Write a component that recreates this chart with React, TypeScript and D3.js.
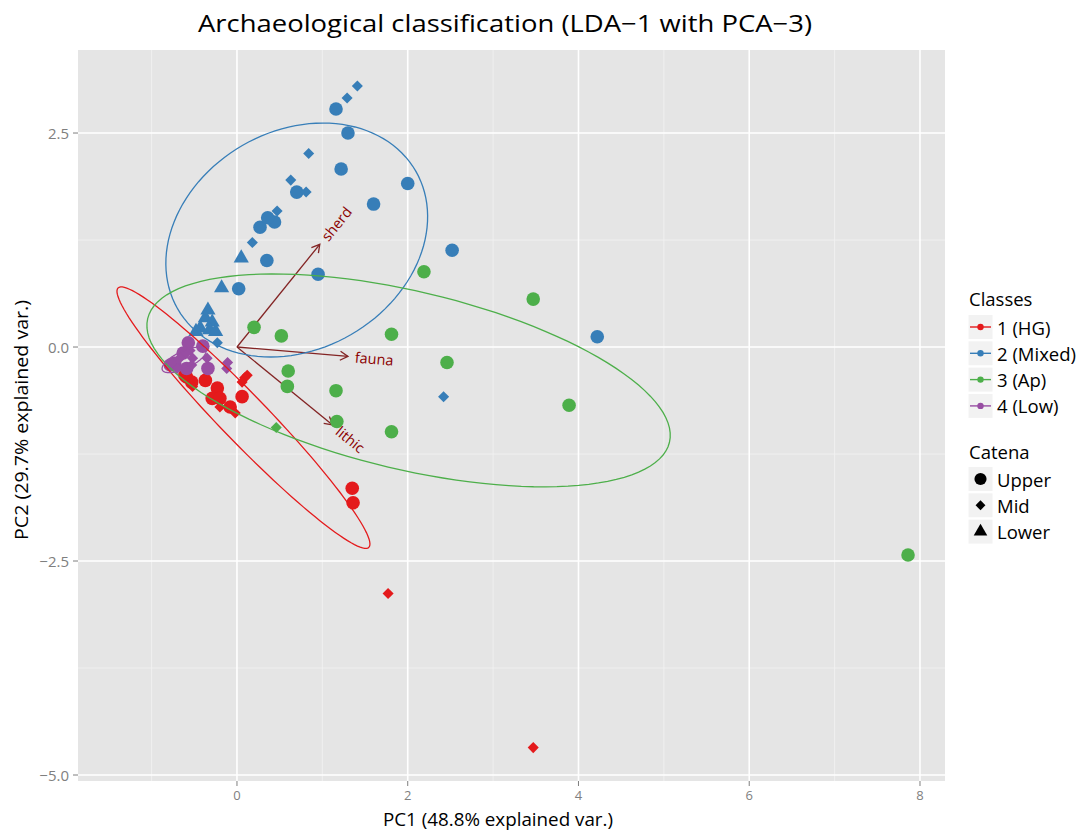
import * as d3 from 'd3';
import React from 'react';

const WIDTH = 1086;
const HEIGHT = 834;
const FONT = '"Open Sans", "Noto Sans", sans-serif';

// classes + colours (ColorBrewer Set1)
const classNames = ['1 (HG)', '2 (Mixed)', '3 (Ap)', '4 (Low)'];
const classColors = ['#E41A1C', '#377EB8', '#4DAF4A', '#984EA3'];
const catenaNames = ['Upper', 'Mid', 'Lower'];

// PC scores, [PC1, PC2]
const hgUpper = [
  [-0.59, -0.35], [-0.53, -0.41], [-0.37, -0.39], [-0.23, -0.48], [-0.29, -0.60],
  [-0.20, -0.60], [-0.08, -0.70], [0.06, -0.58], [-0.61, -0.33], [1.35, -1.65], [1.36, -1.82],
];
const hgMid = [
  [-0.52, -0.46], [-0.20, -0.70], [-0.02, -0.77], [0.09, -0.36], [0.12, -0.33],
  [0.06, -0.41], [1.77, -2.88], [3.47, -4.68],
];
const mixedUpper = [
  [1.16, 2.78], [1.30, 2.50], [1.22, 2.08], [2.00, 1.91], [1.60, 1.67], [0.70, 1.81],
  [0.27, 1.40], [0.44, 1.46], [0.36, 1.51], [0.35, 1.01], [0.95, 0.85], [0.02, 0.68],
  [2.52, 1.13], [4.22, 0.12],
];
const mixedMid = [
  [1.41, 3.05], [1.29, 2.91], [0.84, 2.26], [0.63, 1.95], [0.81, 1.81], [0.47, 1.59],
  [0.18, 1.22], [2.42, -0.58], [-0.23, 0.05],
];
const mixedLower = [
  [0.05, 1.04], [-0.18, 0.69], [-0.34, 0.43], [-0.37, 0.34], [-0.29, 0.29],
  [-0.43, 0.22], [-0.32, 0.20], [-0.25, 0.18], [-0.48, 0.18],
];
const apUpper = [
  [0.20, 0.23], [0.52, 0.13], [0.60, -0.28], [0.59, -0.46], [1.16, -0.51], [1.17, -0.87],
  [1.81, 0.15], [2.46, -0.18], [2.19, 0.88], [3.47, 0.56], [3.89, -0.68], [1.81, -0.99],
  [7.86, -2.43],
];
const apMid = [[0.46, -0.94]];
const lowUpper = [
  [-0.40, 0.01], [-0.34, -0.25], [-0.57, 0.05], [-0.63, -0.07], [-0.73, -0.19],
  [-0.59, -0.25], [-0.78, -0.21],
];
const lowMid = [
  [-0.35, -0.13], [-0.11, -0.18], [-0.12, -0.25], [-0.55, -0.04], [-0.67, -0.13],
  [-0.70, -0.25], [-0.52, -0.13], [-0.53, -0.21],
];

// normal ellipses per class: [cx, cy, semi-major, semi-minor, angle deg]
const ellipses = [
  [0.076, -0.825, 2.11, 0.275, -45.9],
  [0.70, 1.25, 1.61, 1.275, 30],
  [2.01, -0.39, 3.14, 1.04, -13.3],
  [-0.62, -0.15, 0.28, 0.10, 25],
];

// variable loadings
const varNames = ['sherd', 'fauna', 'lithic'];
const varLoadings = [[0.97, 1.20], [1.30, -0.11], [1.12, -0.91]];

const xTicks = [0, 2, 4, 6, 8];
const xMinor = [-1, 1, 3, 5, 7];
const yTicks = [-5, -2.5, 0, 2.5];
const yMinor = [-3.75, -1.25, 1.25];

const groups = [
  {cls: 0, cat: 0, pts: hgUpper}, {cls: 0, cat: 1, pts: hgMid},
  {cls: 1, cat: 0, pts: mixedUpper}, {cls: 1, cat: 1, pts: mixedMid}, {cls: 1, cat: 2, pts: mixedLower},
  {cls: 2, cat: 0, pts: apUpper}, {cls: 2, cat: 1, pts: apMid},
  {cls: 3, cat: 0, pts: lowUpper}, {cls: 3, cat: 1, pts: lowMid},
];

const M = {left: 78, right: 945, top: 50, bottom: 781};

const x = d3.scaleLinear().domain([-1.862, 8.293]).range([M.left, M.right]);
const y = d3.scaleLinear().domain([-5.07, 3.47]).range([M.bottom, M.top]);

const shapePath = (cat: number, scale = 1) => {
  if (cat === 0) return d3.symbol(d3.symbolCircle, 145 * scale)()!;
  if (cat === 1) return d3.symbol(d3.symbolDiamond2, 78 * scale)()!;
  return d3.symbol(d3.symbolTriangle, 100 * scale)()!;
};

const ellipsePath = (e: number[]) => {
  const [cx, cy, a, b, deg] = e;
  const r = (deg * Math.PI) / 180;
  const pts = d3.range(0, 121).map((i) => {
    const t = (i / 120) * 2 * Math.PI;
    const ex = a * Math.cos(t), ey = b * Math.sin(t);
    return [x(cx + ex * Math.cos(r) - ey * Math.sin(r)), y(cy + ex * Math.sin(r) + ey * Math.cos(r))] as [number, number];
  });
  return d3.line()(pts)!;
};

const ARROW = '#832424';
const fmtY = d3.format('.1f');

export default function App() {
  const ox = x(0), oy = y(0);
  return (
    <svg width={WIDTH} height={HEIGHT} style={{position: 'absolute', left: 0, top: 0, background: '#fff'}}
         fontFamily={FONT}>
      <text x={505} y={32} textAnchor="middle" fontSize={24} textLength={614} lengthAdjust="spacingAndGlyphs"
            fill="#000">Archaeological classification (LDA−1 with PCA−3)</text>

      {/* panel */}
      <rect x={M.left} y={M.top} width={M.right - M.left} height={M.bottom - M.top} fill="#E5E5E5"/>
      {xMinor.map((v) => <line key={'xm' + v} x1={x(v)} x2={x(v)} y1={M.top} y2={M.bottom} stroke="#F2F2F2" strokeWidth={0.8}/>)}
      {yMinor.map((v) => <line key={'ym' + v} y1={y(v)} y2={y(v)} x1={M.left} x2={M.right} stroke="#F2F2F2" strokeWidth={0.8}/>)}
      {xTicks.map((v) => <line key={'xg' + v} x1={x(v)} x2={x(v)} y1={M.top} y2={M.bottom} stroke="#fff" strokeWidth={1.6}/>)}
      {yTicks.map((v) => <line key={'yg' + v} y1={y(v)} y2={y(v)} x1={M.left} x2={M.right} stroke="#fff" strokeWidth={1.6}/>)}

      {/* loading arrows */}
      {varLoadings.map(([vx, vy], i) => {
        const tx = x(vx), ty = y(vy);
        const ang = Math.atan2(ty - oy, tx - ox);
        const hl = 9, ha = Math.PI / 6;
        return (
          <g key={'ar' + i} stroke={ARROW} strokeWidth={1.3} fill="none">
            <line x1={ox} y1={oy} x2={tx} y2={ty}/>
            <path d={`M${tx - hl * Math.cos(ang - ha)},${ty - hl * Math.sin(ang - ha)}L${tx},${ty}L${tx - hl * Math.cos(ang + ha)},${ty - hl * Math.sin(ang + ha)}`}/>
          </g>
        );
      })}

      {/* points */}
      {groups.map((g, gi) => g.pts.map(([px, py], i) => (
        <path key={`p${gi}-${i}`} d={shapePath(g.cat)} transform={`translate(${x(px)},${y(py)})`}
              fill={classColors[g.cls]}/>
      )))}

      {/* ellipses */}
      {ellipses.map((e, i) => (
        <path key={'el' + i} d={ellipsePath(e)} fill="none" stroke={classColors[i]} strokeWidth={1.3}/>
      ))}

      {/* variable names */}
      {varLoadings.map(([vx, vy], i) => {
        const deg = (Math.atan(vy / vx) * 180) / Math.PI;
        return (
          <text key={'vn' + i} transform={`translate(${x(vx)},${y(vy)}) rotate(${-deg})`} dx={7}
                dominantBaseline="central" fontSize={14.5} fill="#8B0000">{varNames[i]}</text>
        );
      })}

      {/* axes */}
      {xTicks.map((v) => (
        <g key={'xt' + v}>
          <line x1={x(v)} x2={x(v)} y1={M.bottom} y2={M.bottom + 5} stroke="#7F7F7F" strokeWidth={1}/>
          <text x={x(v)} y={795} textAnchor="middle" dominantBaseline="central" fontSize={13} fill="#7F7F7F">{v}</text>
        </g>
      ))}
      {yTicks.map((v) => (
        <g key={'yt' + v}>
          <line x1={M.left - 5} x2={M.left} y1={y(v)} y2={y(v)} stroke="#7F7F7F" strokeWidth={1}/>
          <text x={M.left - 9} y={y(v)} textAnchor="end" dominantBaseline="central" fontSize={15} fill="#7F7F7F">{fmtY(v)}</text>
        </g>
      ))}
      <text x={498} y={826} textAnchor="middle" fontSize={18} textLength={230} lengthAdjust="spacingAndGlyphs">PC1 (48.8% explained var.)</text>
      <text transform={`translate(28,${420}) rotate(-90)`} textAnchor="middle" fontSize={18.5} textLength={240}
            lengthAdjust="spacingAndGlyphs">PC2 (29.7% explained var.)</text>

      {/* legend: classes */}
      <text x={969} y={306} fontSize={18.5}>Classes</text>
      {classNames.map((n, i) => {
        const cy = 327 + i * 26.3;
        return (
          <g key={'lc' + i}>
            <rect x={968} y={cy - 12.5} width={25} height={25} fill="#F2F2F2" stroke="#fff" strokeWidth={1}/>
            <line x1={970} x2={991} y1={cy} y2={cy} stroke={classColors[i]} strokeWidth={1.4}/>
            <circle cx={980.5} cy={cy} r={3.2} fill={classColors[i]}/>
            <text x={997} y={cy} dominantBaseline="central" fontSize={18.5}>{n}</text>
          </g>
        );
      })}

      {/* legend: catena */}
      <text x={969} y={459} fontSize={18.5}>Catena</text>
      {catenaNames.map((n, i) => {
        const cy = 479 + i * 26.3;
        return (
          <g key={'lk' + i}>
            <rect x={968} y={cy - 12.5} width={25} height={25} fill="#F2F2F2" stroke="#fff" strokeWidth={1}/>
            <path d={shapePath(i, 0.8)} transform={`translate(980.5,${cy})`} fill="#000"/>
            <text x={997} y={cy} dominantBaseline="central" fontSize={18.5}>{n}</text>
          </g>
        );
      })}
    </svg>
  );
}
